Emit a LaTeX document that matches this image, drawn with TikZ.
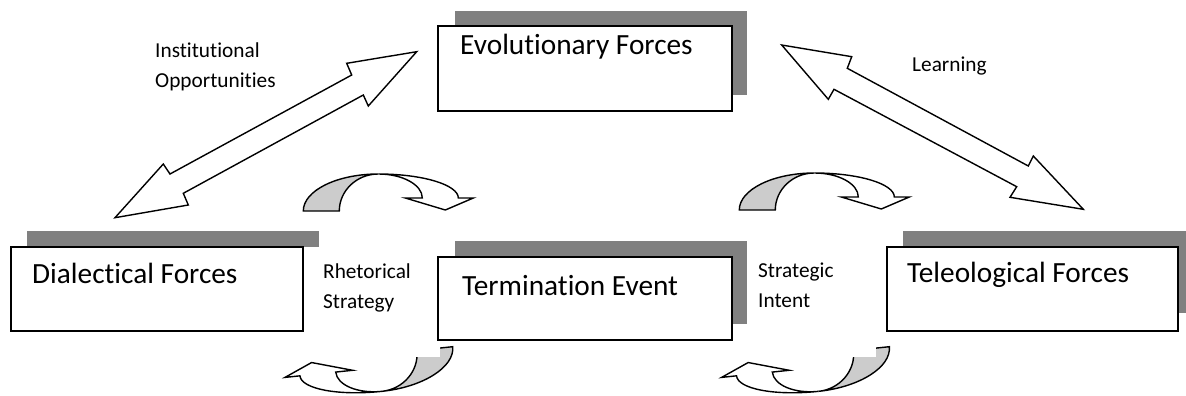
\documentclass[tikz,border=0pt]{standalone}
\usepackage{fontspec}
\setmainfont{Carlito}[Ligatures=NoCommon]
\newcommand\ribbonarrow{%
  \path[back] (0,0) .. controls (0,-20.4) and (33.6,-37) .. (75,-37)
     .. controls (53.5,-37) and (36,-20.4) .. (36,0) -- cycle;
  \path[blk] (75,-37) .. controls (119.2,-37) and (155,-26.2) .. (155,-13)
     -- (170,-13) -- (142,-1) -- (102,-13) -- (119,-13)
     .. controls (119,-26.2) and (99.3,-37) .. (75,-37) -- cycle;
}
\begin{document}
\begin{tikzpicture}[x=1pt,y=-1pt,
  box/.style={draw=black, line width=1.8pt, fill=white, inner sep=0pt},
  shade/.style={fill=black!50},
  big/.style={font=\fontsize{29.3}{35}\selectfont, inner sep=0pt, anchor=base west},
  small/.style={font=\fontsize{21.3}{30}\selectfont, inner sep=0pt, align=left, anchor=base west},
  blk/.style={draw=black, line width=1.4pt, fill=white, line join=miter},
  back/.style={draw=black, line width=1.4pt, fill=black!20},
]
\useasboundingbox (0,0) rectangle (1186,396);

% curved ribbon arrows
\begin{scope}[shift={(303.3,211)}]\ribbonarrow\end{scope}
\begin{scope}[shift={(739.3,210)}]\ribbonarrow\end{scope}
\begin{scope}[shift={(452.7,346.7)},rotate=-174]\ribbonarrow\end{scope}
\begin{scope}[shift={(889.3,346.7)},rotate=-174]\ribbonarrow\end{scope}

% white text-box backgrounds
\fill[white] (306,250) rectangle (440,357);
\fill[white] (750,250) rectangle (876,357);

% shadows
\fill[shade] (455,11) rectangle (747,95);
\fill[shade] (27,231) rectangle (319,247);
\fill[shade] (455,241) rectangle (747,324);
\fill[shade] (903,231) rectangle (1186,313);

% boxes
\node[box, minimum width=294pt, minimum height=85pt] (evo) at (585,68.5) {};
\node[box, minimum width=292pt, minimum height=84pt] (dia) at (157,289) {};
\node[box, minimum width=294pt, minimum height=83pt] (ter) at (585,298.5) {};
\node[box, minimum width=291pt, minimum height=84pt] (tel) at (1032.5,289) {};

\node[big] (evot) at (460,55) {Evolutionary Forces};
\node[big] (diat) at (32,283) {Dialectical Forces};
\node[big] (tert) at (462,295) {Termination Event};
\node[big] (telt) at (907,282) {Teleological Forces};

% double block arrows
\path[blk] (416.7,51.7) -- (346.7,63.3) -- (351.7,75) -- (170,174) -- (163.3,164)
  -- (115,217.7) -- (188.3,205) -- (183.3,193.3) -- (363.3,95) -- (368.3,106) -- cycle;
\path[blk] (781.7,45) -- (851.7,56.7) -- (847.3,68.3) -- (1028.3,166) -- (1033.3,156)
  -- (1083.3,209.3) -- (1010,197.3) -- (1016.7,186.7) -- (834,89.3) -- (828.3,99.3) -- cycle;

% labels (base anchor = baseline of the last line)
\node[small] (inst) at (155,87.5) {Institutional\\Opportunities};
\node[small] (learn) at (912,72) {Learning};
\node[small] (rhet) at (323,308.5) {Rhetorical\\Strategy};
\node[small] (strat) at (758,307.5) {Strategic\\Intent};
\end{tikzpicture}
\end{document}
